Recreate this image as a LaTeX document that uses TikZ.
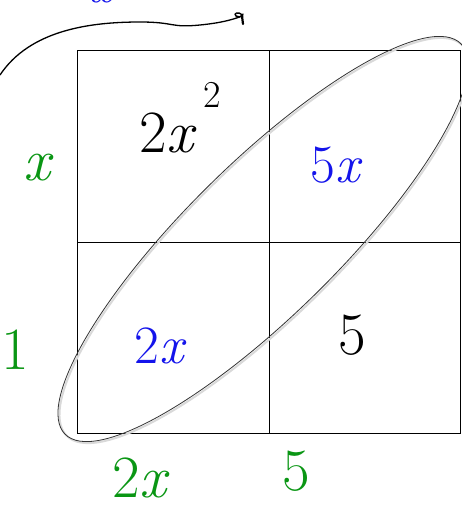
\documentclass[tikz,border=0pt]{standalone}
\usepackage{xcolor}
\definecolor{hgreen}{RGB}{10,150,20}
\definecolor{hblue}{RGB}{20,20,235}
\newcommand{\vx}{\textit{x}}
\begin{document}
\begin{tikzpicture}[x=1pt,y=-1pt,
  big/.style={inner sep=0pt,font=\fontsize{60}{60}\selectfont},
  mid/.style={inner sep=0pt,font=\fontsize{54}{54}\selectfont},
  grid line/.style={draw=black,line width=0.8pt},
  loop/.style={draw=black!80,line width=0.8pt}]
\useasboundingbox (0,0) rectangle (461,514);
% grid
\coordinate (tl) at (77,50);
\coordinate (br) at (460,433);
\draw[grid line] (tl) rectangle (br);
\draw[grid line] (269,50) -- (269,433);
\draw[grid line] (77,242) -- (460,242);
% cell terms
\node[big] (a) at (180,118) {2\vx\hspace{6pt}\raisebox{0.75em}{\fontsize{38}{38}\selectfont 2}};
\node[mid,text=hblue] (b) at (337,165) {5\vx};
\node[mid,text=hblue] (c) at (161,346) {2\vx};
\node[big] (d) at (352,335) {5};
% diagonal ellipse
\draw[loop,draw=black!15,line width=2pt] (264.5,240.5) ellipse [x radius=278, y radius=76, rotate=44.6];
\draw[loop] (263,239) ellipse [x radius=278, y radius=76, rotate=44.6];
% side labels
\node[big,text=hgreen] (lx) at (39,168) {\vx};
\node[big,text=hgreen] (l1) at (15,350) {1};
\node[big,text=hgreen] (bx) at (141,478) {2\vx};
\node[big,text=hgreen] (b5) at (296,471) {5};
% top partial label (cut off by the top edge, as in the reference)
\node[mid,text=hblue] (tx) at (103,-9) {\vx};
% curved arrow
\coordinate (s) at (0,75);
\coordinate (e) at (242,16);
\draw[black,line width=1.3pt] (s) .. controls (30,30) and (90,22) .. (140,22)
  .. controls (175,22) and (170,28) .. (200,25) .. controls (220,23) and (232,20) .. (e);
\draw[black,line width=2.2pt,line cap=round] (e) -- (243,24);
\draw[black,line width=1.4pt,line cap=round] (243,16) .. controls (238,10) and (233,14) .. (236,16) .. controls (238,18) and (241,17) .. (243,14);
\end{tikzpicture}
\end{document}
